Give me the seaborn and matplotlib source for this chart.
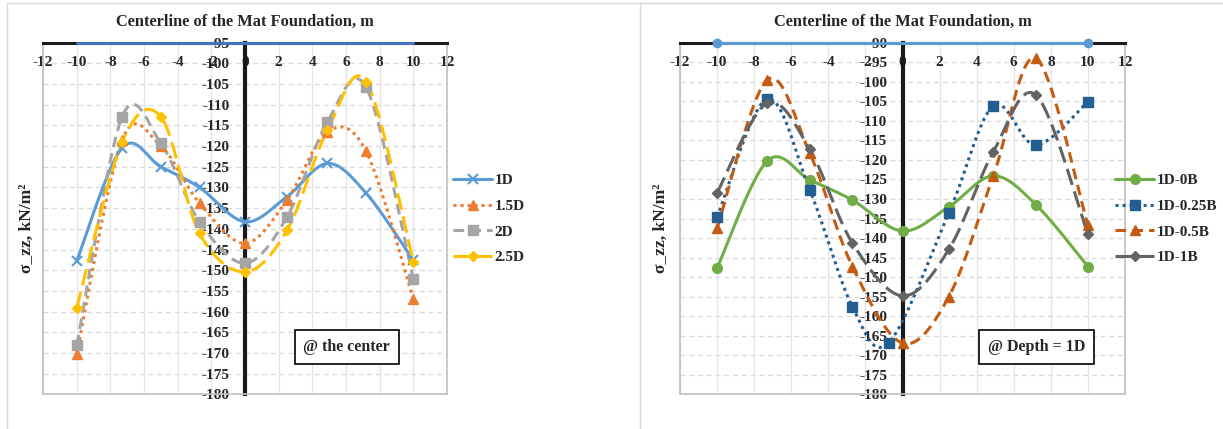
import numpy as np
import matplotlib
matplotlib.use("Agg")
import matplotlib.pyplot as plt
from matplotlib.lines import Line2D
import seaborn as sns

# ---- data ----
x_pos = [-10, -7.3, -5, -2.7, 0, 2.5, 4.9, 7.2, 10]
x_pos_025 = [-10, -7.3, -5, -2.7, -0.75, 2.5, 4.9, 7.2, 10]

# left panel: @ the center
s_1d = [-147.8, -120.4, -125.0, -130.0, -138.3, -132.2, -124.2, -131.4, -147.6]
s_15d = [-170.2, -118.5, -120.0, -133.8, -143.5, -133.0, -116.5, -121.3, -157.0]
s_2d = [-168.2, -112.9, -119.3, -138.3, -148.3, -137.1, -114.1, -105.8, -152.1]
s_25d = [-159.2, -119.0, -112.9, -141.1, -150.4, -140.3, -116.1, -104.4, -148.0]

# right panel: @ depth = 1D
s_0b = [-147.7, -120.3, -125.1, -130.3, -138.2, -132.0, -124.1, -131.5, -147.3]
s_025b = [-134.7, -104.4, -127.7, -157.6, -166.8, -133.6, -106.2, -116.2, -105.1]
s_05b = [-137.5, -99.5, -118.3, -147.3, -166.9, -155.0, -124.1, -94.0, -136.7]
s_1b = [-128.4, -105.5, -117.3, -141.3, -154.8, -142.9, -117.9, -103.4, -139.0]

# mat foundation line on the top axis
mat_x = [-10, 10]
mat_y_left = [-95, -95]
mat_y_right = [-90, -90]

x_ticks = list(range(-12, 13, 2))
y_ticks_left = list(range(-180, -94, 5))
y_ticks_right = list(range(-180, -89, 5))


def smooth(xs, ys, n=25):
    """Excel-like smoothed line (Catmull-Rom Bezier through the points)"""
    P = np.column_stack([xs, ys]).astype(float)
    E = np.vstack([P[0], P, P[-1]])
    t = np.linspace(0, 1, n)[:, None]
    out = []
    for i in range(len(P) - 1):
        p0, p1, p2, p3 = E[i], E[i + 1], E[i + 2], E[i + 3]
        c1 = p1 + (p2 - p0) / 6
        c2 = p2 - (p3 - p1) / 6
        seg = (1 - t) ** 3 * p1 + 3 * (1 - t) ** 2 * t * c1 + 3 * (1 - t) * t ** 2 * c2 + t ** 3 * p2
        out.append(seg if i == 0 else seg[1:])
    return np.vstack(out)


sns.set_theme(style="white")
plt.rcParams["font.family"] = ["Liberation Serif", "DejaVu Serif"]
plt.rcParams["font.weight"] = "bold"
plt.rcParams["axes.unicode_minus"] = False

fig = plt.figure(figsize=(12.23, 4.29), dpi=100)
W, H = 1223, 429
ax1 = fig.add_axes([43 / W, (H - 394.3) / H, 404 / W, 351.6 / H])
ax2 = fig.add_axes([680 / W, (H - 394.3) / H, 445 / W, 351.6 / H])

# outer chart frames
for x0 in [7, 640]:
    fig.add_artist(Line2D([x0 / W, x0 / W], [0, 1 - 3 / H], color="#D9D9D9", lw=1))
    fig.add_artist(Line2D([x0 / W, 1.2], [1 - 3 / H, 1 - 3 / H], color="#D9D9D9", lw=1))


def style_axes(ax, ymin, ymax, yticks):
    ax.set_xlim(-12, 12)
    ax.set_ylim(ymin, ymax)
    ax.set_xticks(x_ticks)
    ax.set_yticks(yticks)
    ax.set_xticklabels([str(v) for v in x_ticks])
    ax.set_yticklabels([str(v) for v in yticks])
    for v in x_ticks:
        ax.axvline(v, color="#E4E4E4", lw=0.9, zorder=0)
    for v in yticks:
        ax.axhline(v, color="#D9D9D9", lw=0.9, ls=(0, (4, 3)), zorder=0)
    ax.xaxis.set_ticks_position("top")
    ax.tick_params(axis="x", length=0, pad=-19, labelsize=11)
    ax.tick_params(axis="y", length=0, pad=11, labelsize=11)
    for lab in ax.get_xticklabels() + ax.get_yticklabels():
        lab.set_fontweight("bold")
    ax.spines["left"].set_position(("data", 0))
    ax.spines["left"].set_color("#1A1A1A")
    ax.spines["left"].set_linewidth(3)
    ax.spines["top"].set_color("#1A1A1A")
    ax.spines["top"].set_linewidth(2.2)
    for s in ["right", "bottom"]:
        ax.spines[s].set_color("#BFBFBF")
        ax.spines[s].set_linewidth(1.2)
    ax.plot([0, 0], [0, 1], transform=ax.transAxes, color="#BFBFBF", lw=1.2, clip_on=False)
    ax.set_title("Centerline of the Mat Foundation, m", fontsize=11.8, fontweight="bold", pad=12)
    ax.set_ylabel("σ_zz, kN/m²", fontsize=12.5, fontweight="bold")


def draw_series(ax, xs, ys, color, ls, marker, ms, lw=2.2, mew=1.0):
    c = smooth(xs, ys)
    sns.lineplot(x=c[:, 0], y=c[:, 1], sort=False, estimator=None, ax=ax,
                 color=color, linestyle=ls, linewidth=lw, zorder=3)
    ax.plot(xs, ys, linestyle="none", marker=marker, markersize=ms, color=color,
            markeredgecolor=color, markeredgewidth=mew, zorder=4)
    return Line2D([], [], color=color, linestyle=ls, linewidth=lw, marker=marker,
                  markersize=ms, markeredgewidth=mew)


legend_kw = dict(loc="upper left", frameon=False, handlelength=2.6, handletextpad=0.15,
                 labelspacing=0.78, borderpad=0.2, prop={"weight": "bold", "size": 11})

# ---- left panel ----
style_axes(ax1, -180, -95, y_ticks_left)
left_series = [
    ("1D", s_1d, "#5B9BD5", "-", "x", 7, 1.5),
    ("1.5D", s_15d, "#ED7D31", (0, (1, 1.3)), "^", 7, 1.0),
    ("2D", s_2d, "#A5A5A5", (0, (3.5, 2)), "s", 7, 1.0),
    ("2.5D", s_25d, "#FFC000", (0, (5.5, 2.2)), "D", 5.5, 1.0),
]
h1 = []
for name, ys, col, ls, mk, ms, mew in left_series:
    h1.append(draw_series(ax1, x_pos, ys, col, ls, mk, ms, mew=mew))
ax1.plot(mat_x, mat_y_left, color="#4472C4", lw=2.2, clip_on=False, zorder=5)
ax1.yaxis.set_label_coords(-0.02, 0.473)
ax1.text(0.752, 0.1345, "@ the center", transform=ax1.transAxes, ha="center", va="center",
         fontsize=11.5, fontweight="bold",
         bbox=dict(boxstyle="square,pad=0.55", facecolor="white", edgecolor="black", lw=1.2))
fig.legend(h1, [s[0] for s in left_series], bbox_to_anchor=(442 / W, 1 - 163 / H), **legend_kw)

# ---- right panel ----
style_axes(ax2, -180, -90, y_ticks_right)
right_series = [
    ("1D-0B", x_pos, s_0b, "#70AD47", "-", "o", 7, 1.0),
    ("1D-0.25B", x_pos_025, s_025b, "#255E91", (0, (1, 1.3)), "s", 7, 1.0),
    ("1D-0.5B", x_pos, s_05b, "#C55A11", (0, (3.5, 2)), "^", 7, 1.0),
    ("1D-1B", x_pos, s_1b, "#636363", (0, (5.5, 2.2)), "D", 5.5, 1.0),
]
h2 = []
for name, xs, ys, col, ls, mk, ms, mew in right_series:
    h2.append(draw_series(ax2, xs, ys, col, ls, mk, ms, mew=mew))
ax2.plot(mat_x, mat_y_right, color="#5B9BD5", lw=2.2, marker="o", markersize=6,
         clip_on=False, zorder=5)
ax2.yaxis.set_label_coords(-0.025, 0.473)
ax2.text(0.802, 0.1345, "@ Depth = 1D", transform=ax2.transAxes, ha="center", va="center",
         fontsize=11.5, fontweight="bold",
         bbox=dict(boxstyle="square,pad=0.55", facecolor="white", edgecolor="black", lw=1.2))
fig.legend(h2, [s[0] for s in right_series], bbox_to_anchor=(1104 / W, 1 - 163 / H), **legend_kw)

fig.savefig("out.png", dpi=100)
